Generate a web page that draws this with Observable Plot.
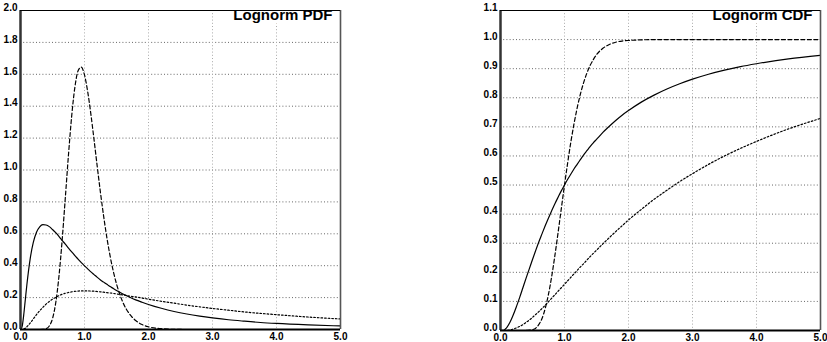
<!DOCTYPE html>
<html>
<head>
<meta charset="utf-8">
<script src="https://cdn.jsdelivr.net/npm/d3@7"></script>
<script src="https://cdn.jsdelivr.net/npm/@observablehq/plot@0.6"></script>
<style>
  html, body { margin: 0; padding: 0; background: #fff; }
  #wrap { position: relative; width: 827px; height: 342px; overflow: hidden; }
  #left { position: absolute; left: 0; top: 0; }
  #right { position: absolute; left: 480px; top: 0; }
</style>
</head>
<body>
<div id="wrap"><div id="left"></div><div id="right"></div></div>
<script>
// x sample positions
const xs = [0, 0.025, 0.05, 0.075, 0.1, 0.15, 0.2, 0.25, 0.3, 0.35, 0.4, 0.45, 0.5, 0.55, 0.6, 0.65, 0.7, 0.75, 0.8, 0.85, 0.9, 0.95, 1.0, 1.05, 1.1, 1.15, 1.2, 1.25, 1.3, 1.35, 1.4, 1.45, 1.5, 1.6, 1.7, 1.8, 1.9, 2.0, 2.2, 2.4, 2.6, 2.8, 3.0, 3.25, 3.5, 3.75, 4.0, 4.5, 5.0];

// PDF curves
const pdfSolid = [0, 0.018, 0.090, 0.186, 0.282, 0.440, 0.546, 0.610, 0.644, 0.657, 0.655, 0.645, 0.627, 0.607, 0.584, 0.559, 0.535, 0.510, 0.486, 0.463, 0.441, 0.419, 0.399, 0.380, 0.361, 0.344, 0.327, 0.311, 0.297, 0.283, 0.269, 0.257, 0.245, 0.223, 0.204, 0.186, 0.171, 0.157, 0.133, 0.113, 0.097, 0.084, 0.073, 0.061, 0.052, 0.044, 0.038, 0.029, 0.022];
const pdfDashed = [0, 0, 0, 0, 0, 0, 0, 0, 0, 0.001, 0.005, 0.022, 0.068, 0.166, 0.330, 0.556, 0.824, 1.097, 1.339, 1.520, 1.622, 1.645, 1.596, 1.491, 1.349, 1.187, 1.019, 0.857, 0.708, 0.575, 0.461, 0.365, 0.286, 0.170, 0.099, 0.056, 0.031, 0.017, 0.005, 0.001, 0, 0, 0, 0, 0, 0, 0, 0, 0];
const pdfDotted = [0, 0, 0.003, 0.008, 0.017, 0.040, 0.066, 0.093, 0.117, 0.139, 0.159, 0.176, 0.190, 0.202, 0.212, 0.221, 0.227, 0.232, 0.236, 0.239, 0.241, 0.242, 0.242, 0.242, 0.241, 0.240, 0.238, 0.236, 0.234, 0.231, 0.229, 0.226, 0.223, 0.217, 0.210, 0.204, 0.197, 0.190, 0.177, 0.165, 0.153, 0.142, 0.132, 0.121, 0.110, 0.101, 0.093, 0.078, 0.066];

// CDF curves
const cdfSolid = [0, 0.0001, 0.001, 0.005, 0.011, 0.029, 0.054, 0.083, 0.114, 0.147, 0.180, 0.212, 0.244, 0.275, 0.305, 0.333, 0.361, 0.387, 0.412, 0.436, 0.458, 0.480, 0.500, 0.520, 0.538, 0.556, 0.572, 0.588, 0.604, 0.618, 0.632, 0.645, 0.657, 0.681, 0.702, 0.722, 0.740, 0.756, 0.785, 0.809, 0.830, 0.848, 0.864, 0.881, 0.895, 0.907, 0.917, 0.934, 0.946];
const cdfDashed = [0, 0, 0, 0, 0, 0, 0, 0, 0, 0, 0.0001, 0.001, 0.003, 0.008, 0.021, 0.042, 0.077, 0.125, 0.186, 0.258, 0.337, 0.419, 0.500, 0.577, 0.649, 0.712, 0.767, 0.814, 0.853, 0.885, 0.911, 0.931, 0.948, 0.970, 0.983, 0.991, 0.995, 0.997, 0.999, 1.0, 1.0, 1.0, 1.0, 1.0, 1.0, 1.0, 1.0, 1.0, 1.0];
const cdfDotted = [0, 0, 0, 0.0002, 0.0005, 0.002, 0.005, 0.009, 0.014, 0.020, 0.028, 0.036, 0.045, 0.055, 0.065, 0.076, 0.087, 0.099, 0.111, 0.123, 0.135, 0.147, 0.159, 0.171, 0.183, 0.195, 0.207, 0.219, 0.230, 0.242, 0.254, 0.265, 0.276, 0.298, 0.319, 0.340, 0.360, 0.380, 0.416, 0.451, 0.482, 0.512, 0.539, 0.571, 0.600, 0.626, 0.650, 0.693, 0.729];

// ticks
const xTicks = [0, 1, 2, 3, 4, 5];
const xGrid = [1, 2, 3, 4];
const pdfYTicks = [0, 0.2, 0.4, 0.6, 0.8, 1.0, 1.2, 1.4, 1.6, 1.8, 2.0];
const cdfYTicks = [0, 0.1, 0.2, 0.3, 0.4, 0.5, 0.6, 0.7, 0.8, 0.9, 1.0, 1.1];
const titles = ["Lognorm PDF", "Lognorm CDF"];

const toRows = (ys) => xs.map((x, i) => ({x, y: ys[i]}));
const fmt = d => d.toFixed(1);
const FONT = "'Liberation Sans', Arial, Helvetica, sans-serif";

function panel({width, marginLeft, marginRight, marginBottom, yMax, yTicks, series, title}) {
  const yGrid = yTicks.filter(v => v > 0 && v < yMax);
  return Plot.plot({
    width, height: 342,
    marginLeft, marginRight, marginTop: 10, marginBottom,
    x: {domain: [0, 5], label: null},
    y: {domain: [0, yMax], label: null},
    style: {fontFamily: FONT, background: "#fff", overflow: "visible"},
    marks: [
      Plot.ruleY(yGrid, {stroke: "#666", strokeWidth: 1, strokeDasharray: "1,2.2"}),
      Plot.ruleX(xGrid, {stroke: "#aaa", strokeWidth: 1, strokeDasharray: "1,2.2"}),
      Plot.line(toRows(series[0]), {x: "x", y: "y", stroke: "#000", strokeWidth: 1.2, curve: "monotone-x", clip: true}),
      Plot.line(toRows(series[1]), {x: "x", y: "y", stroke: "#000", strokeWidth: 1.2, strokeDasharray: "4,2.5", curve: "monotone-x", clip: true}),
      Plot.line(toRows(series[2]), {x: "x", y: "y", stroke: "#000", strokeWidth: 1.2, strokeDasharray: "1.6,2", curve: "monotone-x", clip: true}),
      Plot.text([title], {frameAnchor: "top-right", dx: -8, dy: -1, fontSize: 15, fontWeight: "bold", fill: "#000", stroke: "#fff", strokeWidth: 7}),
      Plot.ruleX([0], {stroke: "#333", strokeWidth: 2.5}),
      Plot.ruleX([5], {stroke: "#555", strokeWidth: 1.6}),
      Plot.ruleY([0], {stroke: "#000", strokeWidth: 2}),
      Plot.ruleY([yMax], {stroke: "#000", strokeWidth: 1.2}),
      Plot.axisX(xTicks, {tickSize: 0, tickPadding: 3, tickFormat: fmt, fontWeight: "bold", fontSize: 10}),
      Plot.axisY(yTicks, {tickSize: 0, tickPadding: 3, dy: -3, tickFormat: fmt, fontWeight: "bold", fontSize: 10})
    ]
  });
}

document.getElementById("left").append(panel({
  width: 350, marginLeft: 20, marginRight: 10, marginBottom: 13,
  yMax: 2.0, yTicks: pdfYTicks, series: [pdfSolid, pdfDashed, pdfDotted], title: titles[0]
}));
document.getElementById("right").append(panel({
  width: 347, marginLeft: 20, marginRight: 7, marginBottom: 12,
  yMax: 1.1, yTicks: cdfYTicks, series: [cdfSolid, cdfDashed, cdfDotted], title: titles[1]
}));
</script>
</body>
</html>
